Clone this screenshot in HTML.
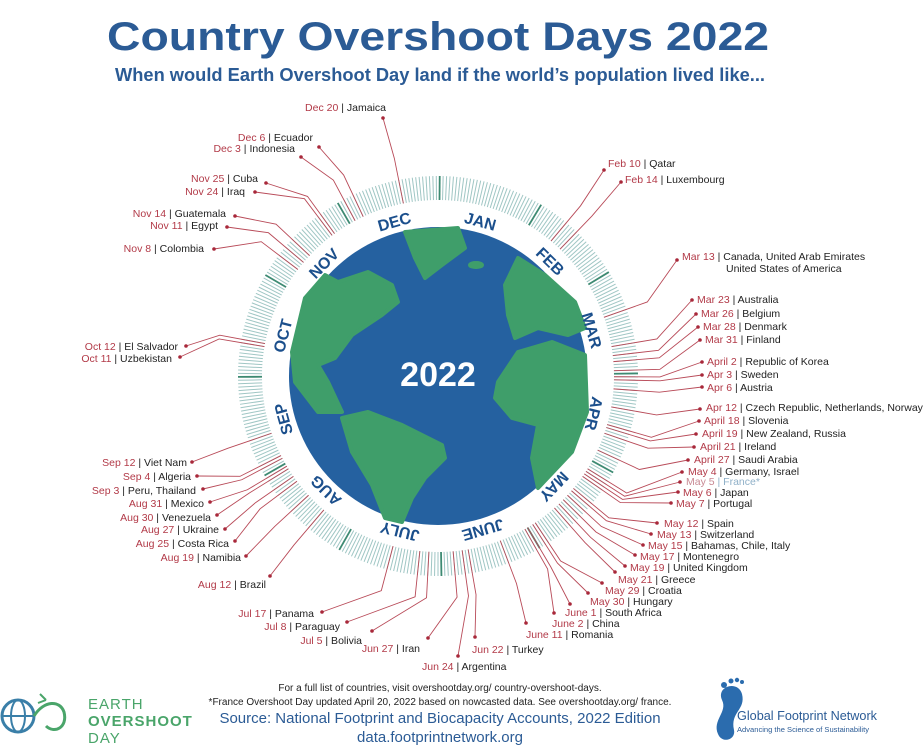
<!DOCTYPE html>
<html><head><meta charset="utf-8"><style>
html,body{margin:0;padding:0;background:#fff}
svg{display:block}
text{font-family:"Liberation Sans",sans-serif}
.l{font-size:10.5px;fill:#222}
.d{fill:#b23a48}
</style></head><body>
<svg id="s" width="924" height="750" viewBox="0 0 924 750" xmlns="http://www.w3.org/2000/svg">
<rect width="924" height="750" fill="#fff"/>
<text x="438" y="50" text-anchor="middle" font-size="40" font-weight="bold" fill="#2b5b95" textLength="662" lengthAdjust="spacingAndGlyphs">Country Overshoot Days 2022</text>
<text x="440" y="81" text-anchor="middle" font-size="18" font-weight="bold" fill="#2b5b95" textLength="650" lengthAdjust="spacingAndGlyphs">When would Earth Overshoot Day land if the world’s population lived like...</text>
<g id="ticks"></g>
<g id="lines" stroke="#b84a58" stroke-width="0.9" fill="none"></g>
<g id="dots" fill="#a8283a"></g>
<circle cx="438" cy="376" r="149" fill="#2561a0"/>
<g fill="#3f9e6a" stroke="#3f9e6a" stroke-width="4" stroke-linejoin="round">
<polygon points="338,282 368,272 392,285 398,302 382,315 352,335 335,358 318,365 328,382 342,412 318,412 295,382 292,352 305,298 325,275"/>
<polygon points="405,232 458,228 465,248 442,265 425,278 415,258"/>
<polygon points="342,418 368,412 402,425 442,445 445,458 425,478 412,498 402,522 385,518 372,485 352,452"/>
<polygon points="498,382 518,352 552,342 585,355 587,412 572,452 538,488 532,458 538,425 512,418 495,398"/>
<polygon points="505,285 518,258 545,275 575,302 585,328 568,335 538,328 515,338 508,315"/>
<ellipse cx="476" cy="265" rx="6" ry="2"/>
</g>
<text x="438" y="386" text-anchor="middle" font-size="34" font-weight="bold" fill="#fff">2022</text>
<g id="months" font-size="16" font-weight="bold" fill="#1b4f8c" text-anchor="middle">
<text id="m0">JAN</text><text id="m1">FEB</text><text id="m2">MAR</text><text id="m3">APR</text><text id="m4">MAY</text><text id="m5">JUNE</text><text id="m6">JULY</text><text id="m7">AUG</text><text id="m8">SEP</text><text id="m9">OCT</text><text id="m10">NOV</text><text id="m11">DEC</text>
</g>
<g class="l" text-anchor="end">
<text x="386" y="111"><tspan class="d">Dec 20</tspan> | Jamaica</text>
<text x="313" y="141"><tspan class="d">Dec 6</tspan> | Ecuador</text>
<text x="295" y="152"><tspan class="d">Dec 3</tspan> | Indonesia</text>
<text x="258" y="182"><tspan class="d">Nov 25</tspan> | Cuba</text>
<text x="245" y="195"><tspan class="d">Nov 24</tspan> | Iraq</text>
<text x="226" y="217"><tspan class="d">Nov 14</tspan> | Guatemala</text>
<text x="218" y="229"><tspan class="d">Nov 11</tspan> | Egypt</text>
<text x="204" y="252"><tspan class="d">Nov 8</tspan> | Colombia</text>
<text x="178" y="350"><tspan class="d">Oct 12</tspan> | El Salvador</text>
<text x="172" y="362"><tspan class="d">Oct 11</tspan> | Uzbekistan</text>
<text x="187" y="466"><tspan class="d">Sep 12</tspan> | Viet Nam</text>
<text x="191" y="480"><tspan class="d">Sep 4</tspan> | Algeria</text>
<text x="196" y="494"><tspan class="d">Sep 3</tspan> | Peru, Thailand</text>
<text x="204" y="507"><tspan class="d">Aug 31</tspan> | Mexico</text>
<text x="211" y="521"><tspan class="d">Aug 30</tspan> | Venezuela</text>
<text x="219" y="533"><tspan class="d">Aug 27</tspan> | Ukraine</text>
<text x="229" y="547"><tspan class="d">Aug 25</tspan> | Costa Rica</text>
<text x="241" y="561"><tspan class="d">Aug 19</tspan> | Namibia</text>
<text x="266" y="588"><tspan class="d">Aug 12</tspan> | Brazil</text>
<text x="314" y="617"><tspan class="d">Jul 17</tspan> | Panama</text>
<text x="340" y="630"><tspan class="d">Jul 8</tspan> | Paraguay</text>
<text x="362" y="644"><tspan class="d">Jul 5</tspan> | Bolivia</text>
<text x="420" y="652"><tspan class="d">Jun 27</tspan> | Iran</text>
</g>
<g class="l" text-anchor="start">
<text x="422" y="670"><tspan class="d">Jun 24</tspan> | Argentina</text>
<text x="472" y="653"><tspan class="d">Jun 22</tspan> | Turkey</text>
<text x="526" y="638"><tspan class="d">June 11</tspan> | Romania</text>
<text x="552" y="627"><tspan class="d">June 2</tspan> | China</text>
<text x="565" y="616"><tspan class="d">June 1</tspan> | South Africa</text>
<text x="590" y="605"><tspan class="d">May 30</tspan> | Hungary</text>
<text x="605" y="594"><tspan class="d">May 29</tspan> | Croatia</text>
<text x="618" y="583"><tspan class="d">May 21</tspan> | Greece</text>
<text x="630" y="571"><tspan class="d">May 19</tspan> | United Kingdom</text>
<text x="640" y="560"><tspan class="d">May 17</tspan> | Montenegro</text>
<text x="648" y="549"><tspan class="d">May 15</tspan> | Bahamas, Chile, Italy</text>
<text x="657" y="538"><tspan class="d">May 13</tspan> | Switzerland</text>
<text x="664" y="527"><tspan class="d">May 12</tspan> | Spain</text>
<text x="676" y="507"><tspan class="d">May 7</tspan> | Portugal</text>
<text x="683" y="496"><tspan class="d">May 6</tspan> | Japan</text>
<text x="686" y="485" fill="#8fb0c8"><tspan fill="#c98a94">May 5</tspan> | France*</text>
<text x="688" y="475"><tspan class="d">May 4</tspan> | Germany, Israel</text>
<text x="694" y="463"><tspan class="d">April 27</tspan> | Saudi Arabia</text>
<text x="700" y="450"><tspan class="d">April 21</tspan> | Ireland</text>
<text x="702" y="437"><tspan class="d">April 19</tspan> | New Zealand, Russia</text>
<text x="704" y="424"><tspan class="d">April 18</tspan> | Slovenia</text>
<text x="706" y="411"><tspan class="d">Apr 12</tspan> | Czech Republic, Netherlands, Norway</text>
<text x="707" y="391"><tspan class="d">Apr 6</tspan> | Austria</text>
<text x="707" y="378"><tspan class="d">Apr 3</tspan> | Sweden</text>
<text x="707" y="365"><tspan class="d">April 2</tspan> | Republic of Korea</text>
<text x="705" y="343"><tspan class="d">Mar 31</tspan> | Finland</text>
<text x="703" y="330"><tspan class="d">Mar 28</tspan> | Denmark</text>
<text x="701" y="317"><tspan class="d">Mar 26</tspan> | Belgium</text>
<text x="697" y="303"><tspan class="d">Mar 23</tspan> | Australia</text>
<text x="682" y="260"><tspan class="d">Mar 13</tspan> | Canada, United Arab Emirates</text>
<text x="726" y="272">United States of America</text>
<text x="608" y="167"><tspan class="d">Feb 10</tspan> | Qatar</text>
<text x="625" y="183"><tspan class="d">Feb 14</tspan> | Luxembourg</text>
</g>
<g text-anchor="middle" fill="#222">
<text x="440" y="691" font-size="10">For a full list of countries, visit overshootday.org/ country-overshoot-days.</text>
<text x="440" y="705" font-size="10">*France Overshoot Day updated April 20, 2022 based on nowcasted data. See overshootday.org/ france.</text>
<text x="440" y="723" font-size="15" fill="#2b5b95">Source: National Footprint and Biocapacity Accounts, 2022 Edition</text>
<text x="440" y="742" font-size="15" fill="#2b5b95">data.footprintnetwork.org</text>
</g>
<g fill="none" stroke-width="3">
<circle cx="18" cy="716" r="16" stroke="#3a7fa8"/>
<ellipse cx="18" cy="716" rx="7" ry="16" stroke="#3a7fa8" stroke-width="2"/>
<line x1="2" y1="716" x2="34" y2="716" stroke="#3a7fa8" stroke-width="2"/>
<path d="M34,716 C44,700 60,700 64,712 C68,728 54,734 46,726" stroke="#4aa56a"/>
<path d="M46,700 l-6,-6 m6,6 l-8,3" stroke="#4aa56a" stroke-width="2"/>
</g>
<g font-size="15" fill="#4aa56a">
<text x="88" y="709" letter-spacing="1">EARTH</text>
<text x="88" y="726" font-weight="bold" letter-spacing="1">OVERSHOOT</text>
<text x="88" y="743" letter-spacing="1">DAY</text>
</g>
<path d="M722,700 C716,686 738,680 742,694 C746,710 730,712 734,730 C736,740 722,744 718,734 C712,720 728,712 722,700 Z" fill="#2b6cae"/>
<g fill="#2b6cae"><circle cx="724" cy="685" r="3"/><circle cx="731" cy="681" r="2.5"/><circle cx="737" cy="680" r="2.2"/><circle cx="742" cy="682" r="2"/></g>
<text x="737" y="720" font-size="13" fill="#2b5b95" textLength="140" lengthAdjust="spacingAndGlyphs">Global Footprint Network</text>
<text x="737" y="732" font-size="7.5" fill="#2b5b95" textLength="132" lengthAdjust="spacingAndGlyphs">Advancing the Science of Sustainability</text>
</svg>
<script>
var cx=438,cy=376,NS="http://www.w3.org/2000/svg";
function P(r,day){var t=day/365*2*Math.PI;return [cx+r*Math.sin(t),cy-r*Math.cos(t)];}
function el(n,a,p){var e=document.createElementNS(NS,n);for(var k in a)e.setAttribute(k,a[k]);p.appendChild(e);return e;}
var off=[0,31,59,90,120,151,181,212,243,273,304,334];
var tg=document.getElementById('ticks');
for(var i=0;i<365;i++){var a=P(176,i+0.5),b=P(200,i+0.5);var mb=off.indexOf(i)>=0;
el('line',{x1:a[0],y1:a[1],x2:b[0],y2:b[1],stroke:mb?'#3d8a72':'#9fc6c4','stroke-width':mb?1.8:1},tg);}
for(var m=0;m<12;m++){var mid=off[m]+(m==11?15:(off[m+1]-off[m])/2);var q=P(159,mid);var ang=mid/365*360;
var t=document.getElementById('m'+m);t.setAttribute('x',q[0]);t.setAttribute('y',q[1]);t.setAttribute('dominant-baseline','middle');t.setAttribute('transform','rotate('+ang+' '+q[0]+' '+q[1]+')');}
function d(mo,dd){return off[mo-1]+dd-1;}
var L=[[383,118,d(12,20)],[319,147,d(12,6)],[301,157,d(12,3)],[266,183,d(11,25)],[255,192,d(11,24)],[235,216,d(11,14)],[227,227,d(11,11)],[214,249,d(11,8)],
[186,346,d(10,12)],[180,357,d(10,11)],[192,462,d(9,12)],[197,476,d(9,4)],[203,489,d(9,3)],[210,502,d(8,31)],[217,515,d(8,30)],[225,529,d(8,27)],[235,541,d(8,25)],[246,556,d(8,19)],[270,576,d(8,12)],
[322,612,d(7,17)],[347,622,d(7,8)],[372,631,d(7,5)],[428,638,d(6,27)],[458,656,d(6,24)],[475,637,d(6,22)],[526,623,d(6,11)],[554,613,d(6,2)],[570,604,d(6,1)],[588,593,d(5,30)],[602,583,d(5,29)],[615,572,d(5,21)],[625,566,d(5,19)],[635,555,d(5,17)],[643,545,d(5,15)],[651,534,d(5,13)],[657,523,d(5,12)],
[671,503,d(5,7)],[678,492,d(5,6)],[680,482,d(5,5)],[682,472,d(5,4)],[688,460,d(4,27)],[694,447,d(4,21)],[696,434,d(4,19)],[699,421,d(4,18)],[700,409,d(4,12)],[702,387,d(4,6)],[702,375,d(4,3)],[702,362,d(4,2)],[700,340,d(3,31)],[698,327,d(3,28)],[696,314,d(3,26)],[692,300,d(3,23)],[677,260,d(3,13)],[604,170,d(2,10)],[621,182,d(2,14)]];
var lg=document.getElementById('lines'),dg=document.getElementById('dots');
L.forEach(function(v){var e=P(222,v[2]+0.5),s=P(176,v[2]+0.5);
el('polyline',{points:v[0]+','+v[1]+' '+e[0]+','+e[1]+' '+s[0]+','+s[1]},lg);
el('circle',{cx:v[0],cy:v[1],r:1.8},dg);});
</script>
</body></html>
